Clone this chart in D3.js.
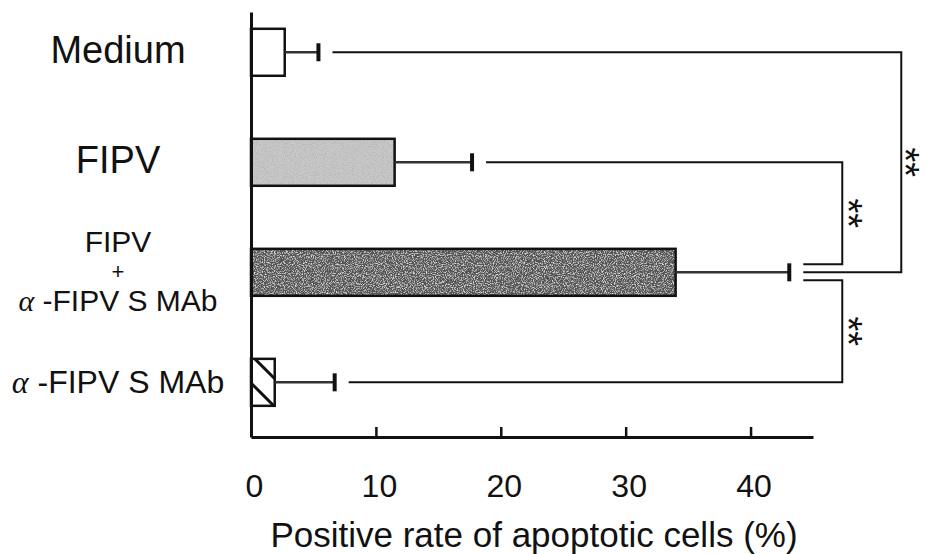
<!DOCTYPE html>
<html>
<head>
<meta charset="utf-8">
<script src="https://cdn.jsdelivr.net/npm/d3@7"></script>
<style>
    body { margin: 0; background: #fff; }
    svg { display: block; }
    text { font-family: Arial, "Liberation Sans", Helvetica, sans-serif; fill: #111; }
</style>
</head>
<body>
<svg id="chart" width="927" height="554"></svg>
<script>
// groups, top -> bottom
var groups = ["Medium", "FIPV", "FIPV + α-FIPV S MAb", "α-FIPV S MAb"];
var labelLines = [["Medium"], ["FIPV"], ["FIPV", "+", "α -FIPV S MAb"], ["α -FIPV S MAb"]];
var means = [2.7, 11.5, 34.0, 1.9];
var sds = [2.7, 6.2, 9.1, 4.8];
var xTicks = [0, 10, 20, 30, 40];
var xTitle = "Positive rate of apoptotic cells (%)";
// each group compared with group 2 (FIPV + MAb), level 0 = inner bracket, 1 = outer
var comparisons = [
    {a: 1, b: 2, level: 0, mark: "**"},
    {a: 3, b: 2, level: 0, mark: "**"},
    {a: 0, b: 2, level: 1, mark: "**"}
];

var W = 927;
var svg = d3.select("#chart");
var ink = "#111";

var x = d3.scaleLinear().domain([0, 45]).range([251, 813]);
var y = d3.scaleBand().domain(groups).range([12, 437])
    .paddingInner(0.573).paddingOuter(0.218).align(0.35);
var cy = function (i) { return y(groups[i]) + y.bandwidth() / 2; };

// textures
var defs = svg.append("defs");

function grain(id, tone, k, b) {
    var f = defs.append("filter").attr("id", id)
        .attr("x", 0).attr("y", 0).attr("width", 1).attr("height", 1);
    f.append("feTurbulence").attr("type", "fractalNoise").attr("baseFrequency", 0.9)
        .attr("numOctaves", 2).attr("seed", 7).attr("result", "noise");
    f.append("feColorMatrix").attr("in", "noise").attr("type", "matrix")
        .attr("values", "0 0 0 0 " + tone + "  0 0 0 0 " + tone + "  0 0 0 0 " + tone + "  " + k + " 0 0 0 " + b)
        .attr("result", "dots");
    f.append("feComposite").attr("in", "dots").attr("in2", "SourceGraphic")
        .attr("operator", "in").attr("result", "clip");
    var m = f.append("feMerge");
    m.append("feMergeNode").attr("in", "SourceGraphic");
    m.append("feMergeNode").attr("in", "clip");
}
grain("grainLight", 0.45, 3.0, -1.35);
grain("grainDark", 0.8, 3.0, -1.4);

var hatch = defs.append("pattern").attr("id", "hatch")
    .attr("patternUnits", "userSpaceOnUse").attr("width", 28).attr("height", 28);
hatch.append("rect").attr("width", 28).attr("height", 28).attr("fill", "#fff");
hatch.append("path").attr("d", "M-3,17L11,31M5,-3L31,23")
    .attr("stroke", ink).attr("stroke-width", 3);

var barFill = ["#fff", "#c8c8c8", "#525252", "url(#hatch)"];
var barFilter = [null, "url(#grainLight)", "url(#grainDark)", null];

// bars
svg.selectAll(".bar")
    .data(groups)
    .enter().append("rect")
    .attr("class", "bar")
    .attr("x", x(0))
    .attr("y", function (d) { return y(d); })
    .attr("width", function (d, i) { return x(means[i]) - x(0); })
    .attr("height", y.bandwidth())
    .attr("fill", function (d, i) { return barFill[i]; })
    .attr("filter", function (d, i) { return barFilter[i]; });

svg.selectAll(".bar-edge")
    .data(groups)
    .enter().append("rect")
    .attr("class", "bar-edge")
    .attr("x", x(0))
    .attr("y", function (d) { return y(d); })
    .attr("width", function (d, i) { return x(means[i]) - x(0); })
    .attr("height", y.bandwidth())
    .attr("fill", "none")
    .attr("stroke", ink)
    .attr("stroke-width", 2.5);

// error bars (one sided)
var err = svg.selectAll(".err")
    .data(groups)
    .enter().append("g")
    .attr("class", "err");
err.append("line")
    .attr("x1", function (d, i) { return x(means[i]); })
    .attr("x2", function (d, i) { return x(means[i] + sds[i]); })
    .attr("y1", function (d, i) { return cy(i); })
    .attr("y2", function (d, i) { return cy(i); })
    .attr("stroke", "#333").attr("stroke-width", 2.5);
err.append("line")
    .attr("x1", function (d, i) { return x(means[i] + sds[i]); })
    .attr("x2", function (d, i) { return x(means[i] + sds[i]); })
    .attr("y1", function (d, i) { return cy(i) - 9; })
    .attr("y2", function (d, i) { return cy(i) + 9; })
    .attr("stroke", ink).attr("stroke-width", 4);

// axes
var gx = svg.append("g")
    .attr("transform", "translate(0," + y.range()[1] + ")")
    .call(d3.axisBottom(x).tickValues(xTicks).tickSizeInner(-10).tickSizeOuter(0).tickPadding(37));
gx.select(".domain").attr("stroke", ink).attr("stroke-width", 3);
gx.selectAll(".tick line").attr("stroke", ink).attr("stroke-width", 2.5);
gx.selectAll(".tick").filter(function (d) { return d === 0; }).select("line").remove();
gx.selectAll(".tick text").attr("font-size", 32).attr("dx", 3).attr("fill", ink);

var gy = svg.append("g")
    .attr("transform", "translate(" + x(0) + ",0)")
    .call(d3.axisLeft(y).tickSize(0).tickFormat(""));
gy.select(".domain").attr("stroke", ink).attr("stroke-width", 3);

// category labels; the stacked one gets a small "+" so the lines don't collide
function lineSize(d, i, ln) {
    if (ln === "+") return 22;
    if (labelLines[i].length > 1) return 30;
    return d.indexOf("α") >= 0 ? 32 : 38;
}
var stackBase = [-20, 6.5, 38.5];

svg.selectAll(".cat")
    .data(groups)
    .enter().append("text")
    .attr("class", "cat")
    .attr("text-anchor", "middle")
    .each(function (d, i) {
        var lines = labelLines[i], t = d3.select(this);
        lines.forEach(function (ln, j) {
            var base = cy(i) + (lines.length > 1 ? stackBase[j] : 11);
            var ts = t.append("tspan").attr("x", 118).attr("y", base)
                .attr("font-size", lineSize(d, i, ln));
            if (ln.charAt(0) === "α") {
                ts.append("tspan").attr("font-family", "'Liberation Serif', 'DejaVu Serif', serif")
                    .attr("font-style", "italic").text("α");
                ts.append("tspan").text(ln.slice(1));
            } else {
                ts.text(ln);
            }
        });
    });

// axis title
svg.append("text")
    .attr("x", 534).attr("y", 547)
    .attr("text-anchor", "middle")
    .attr("font-size", 35)
    .text(xTitle);

// significance brackets
var maxErr = d3.max(means, function (m, i) { return x(m + sds[i]); });
var stubX = maxErr + 14;
var bracketX = [stubX + 39, stubX + 98];
var starSize = 38;

comparisons.forEach(function (c) {
    var ya = cy(c.a);
    var yb = cy(c.b) + (c.level === 1 ? 0 : (c.a < c.b ? -8 : 8));
    var bx = bracketX[c.level];
    var startX = x(means[c.a] + sds[c.a]) + 14;
    svg.append("path")
        .attr("d", "M" + startX + "," + ya + "H" + bx + "V" + yb + "H" + stubX)
        .attr("fill", "none")
        .attr("stroke", ink)
        .attr("stroke-width", 2);
    // "**" set vertically, kept inside the frame
    var sx = Math.min(bx + 15, W - 1 - 0.325 * starSize);
    svg.append("text")
        .attr("transform", "translate(" + sx + "," + (ya + yb) / 2 + ") rotate(90)")
        .attr("text-anchor", "middle")
        .attr("dy", "0.58em")
        .attr("font-size", starSize)
        .attr("fill", "#333")
        .text(c.mark);
});
</script>
</body>
</html>
